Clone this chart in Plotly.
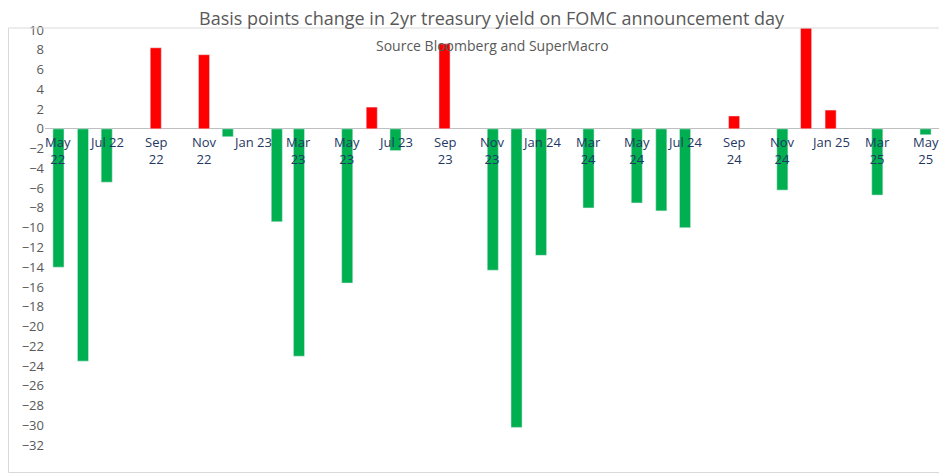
import plotly.graph_objects as go

meeting_month = ["2022-05-01", "2022-06-01", "2022-07-01", "2022-09-01", "2022-11-01",
                 "2022-12-01", "2023-02-01", "2023-03-01", "2023-05-01", "2023-06-01",
                 "2023-07-01", "2023-09-01", "2023-11-01", "2023-12-01", "2024-01-01",
                 "2024-03-01", "2024-05-01", "2024-06-01", "2024-07-01", "2024-09-01",
                 "2024-11-01", "2024-12-01", "2025-01-01", "2025-03-01", "2025-05-01"]
bp_change = [-14.0, -23.5, -5.4, 8.2, 7.5, -0.8, -9.4, -23.0, -15.6, 2.2,
             -2.2, 8.6, -14.3, -30.2, -12.8, -8.0, -7.5, -8.3, -10.0, 1.3,
             -6.2, 10.2, 1.9, -6.7, -0.6]
tick_months = ["2022-05-01", "2022-07-01", "2022-09-01", "2022-11-01", "2023-01-01",
               "2023-03-01", "2023-05-01", "2023-07-01", "2023-09-01", "2023-11-01",
               "2024-01-01", "2024-03-01", "2024-05-01", "2024-07-01", "2024-09-01",
               "2024-11-01", "2025-01-01", "2025-03-01", "2025-05-01"]
tick_labels = ["May<br>22", "Jul 22", "Sep<br>22", "Nov<br>22", "Jan 23", "Mar<br>23",
               "May<br>23", "Jul 23", "Sep<br>23", "Nov<br>23", "Jan 24", "Mar<br>24",
               "May<br>24", "Jul 24", "Sep<br>24", "Nov<br>24", "Jan 25", "Mar<br>25",
               "May<br>25"]

colors = ["#FF0000" if v > 0 else "#00B050" for v in bp_change]

fig = go.Figure(go.Bar(x=meeting_month, y=bp_change, marker_color=colors,
                       width=1000 * 3600 * 24 * 14))

for t, lab in zip(tick_months, tick_labels):
    fig.add_annotation(x=t, y=0, text=lab, showarrow=False, yanchor="top", yshift=-2,
                       font=dict(size=13, color="#1F3864"), align="center")

fig.add_annotation(x=0.5, y=1.0, xref="paper", yref="paper", yanchor="bottom",
                   text="Basis points change in 2yr treasury yield on FOMC announcement day",
                   showarrow=False, font=dict(size=18, color="#595959"), yshift=-4)
fig.add_annotation(x=0.5, y=0.985, xref="paper", yref="paper", yanchor="top",
                   text="Source Bloomberg and SuperMacro",
                   showarrow=False, font=dict(size=14, color="#595959"))

# page body adds an 8px offset, so the figure is sized to fit inside the window
W, H, L, R, T, B = 937, 465, 37, 6, 20, 13
pw, ph = W - L - R, H - T - B
fig.add_shape(type="rect", xref="paper", yref="paper",
              x0=-(L - 0.5) / pw, x1=1 + (R - 0.5) / pw, y0=-(B - 0.5) / ph,
              y1=1 + (T - 20) / ph,
              line=dict(color="#D9D9D9", width=1))

fig.update_xaxes(range=["2022-04-14", "2025-05-18"], showticklabels=False,
                 showgrid=False, zeroline=False)
fig.update_yaxes(range=[-33.5, 10.2], dtick=2, tick0=0, showgrid=False,
                 zeroline=True, zerolinecolor="#BFBFBF", zerolinewidth=1,
                 tickfont=dict(size=13, color="#595959"))
fig.update_layout(width=W, height=H, margin=dict(l=L, r=R, t=T, b=B),
                  plot_bgcolor="white", paper_bgcolor="white", showlegend=False,
                  font=dict(family="Open Sans"))
fig.write_html("out.html")
